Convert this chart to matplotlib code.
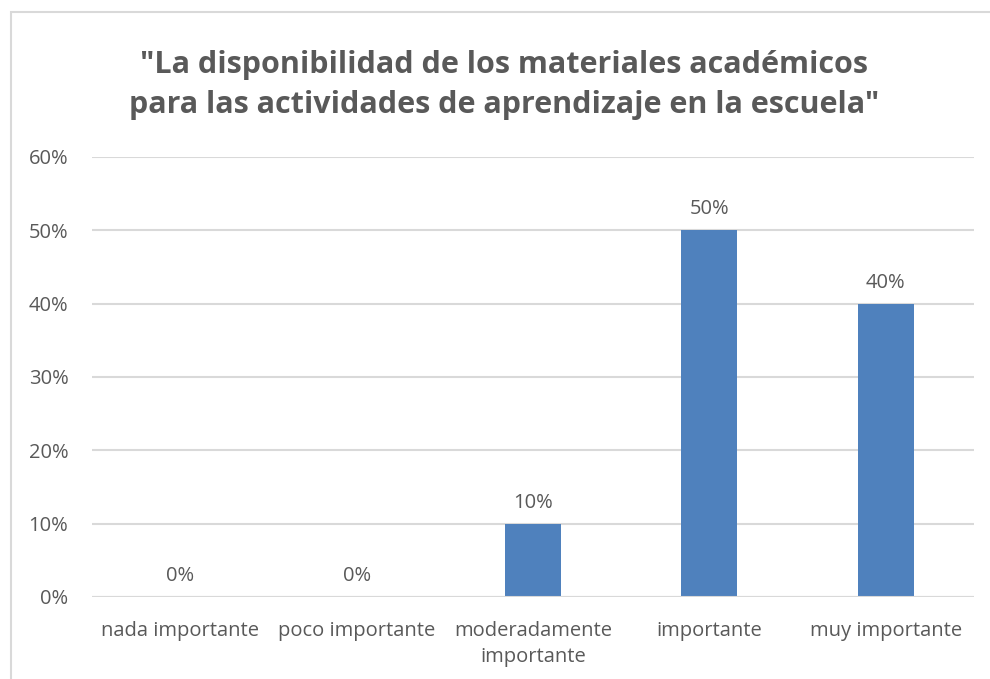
import matplotlib
matplotlib.use("Agg")
import matplotlib.pyplot as plt
from matplotlib.patches import Rectangle

categories = ["nada importante", "poco importante", "moderadamente\nimportante",
              "importante", "muy importante"]
values = [0, 0, 10, 50, 40]
yticks = [0, 10, 20, 30, 40, 50, 60]
ytick_labels = ["0%", "10%", "20%", "30%", "40%", "50%", "60%"]
title = '"La disponibilidad de los materiales académicos\npara las actividades de aprendizaje en la escuela"'

plt.rcParams['font.family'] = ['Open Sans', 'DejaVu Sans']
text_color = "#595959"
grid_color = "#d9d9d9"
bar_color = "#4f81bd"

fig = plt.figure(figsize=(9.9, 6.79), dpi=100)
fig.patch.set_facecolor("white")

# outer chart frame (left and top edges visible)
fig.patches.append(Rectangle((11/990, -0.1), 1.2, 1 - 12/679 + 0.1,
                             transform=fig.transFigure, fill=False,
                             edgecolor=grid_color, linewidth=1.5))

ax = fig.add_axes([92/990, 1 - 597/679, (974 - 92)/990, (597 - 157)/679])
x = list(range(len(categories)))
ax.bar(x, values, width=0.317, color=bar_color, zorder=3)
ax.set_xlim(-0.5, len(categories) - 0.5)
ax.set_ylim(0, 60)
ax.set_yticks(yticks)
ax.set_yticklabels(ytick_labels)
ax.set_xticks(x)
ax.set_xticklabels(categories, linespacing=1.45)
ax.tick_params(axis='both', length=0, labelsize=14.5, colors=text_color)
ax.tick_params(axis='y', pad=17)
ax.tick_params(axis='x', pad=17)
ax.grid(axis='y', color=grid_color, linewidth=1.5, zorder=0)
for s in ax.spines.values():
    s.set_visible(False)
ax.axhline(0, color=grid_color, linewidth=1.5, zorder=4)

for xi, v in zip(x, values):
    ax.annotate(f"{v}%", (xi, v), xytext=(0, 8), textcoords="offset points",
                ha="center", va="bottom", fontsize=14.5, color=text_color)

fig.text(504/990, 1 - 85/679, title, ha="center", va="center",
         fontsize=22, fontweight="bold", color=text_color, linespacing=1.45)

fig.savefig("out.png", dpi=100)
